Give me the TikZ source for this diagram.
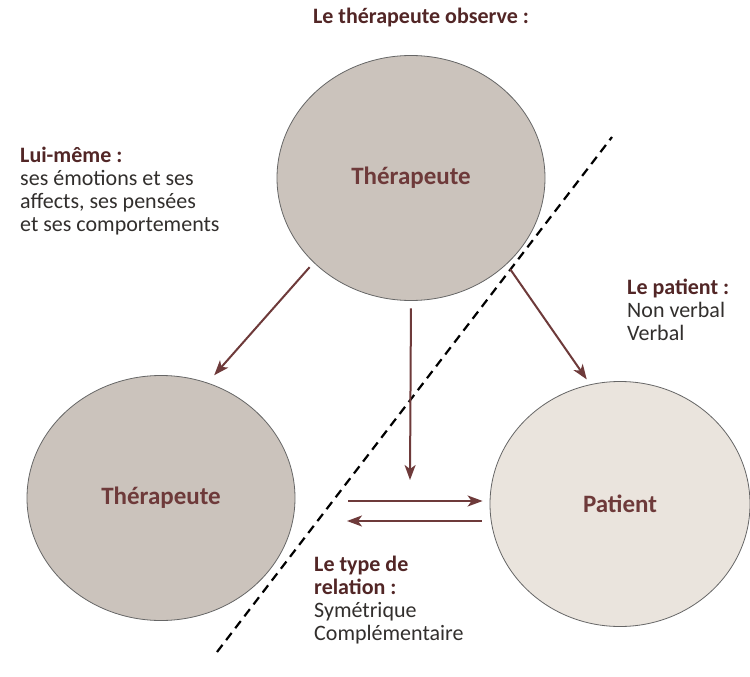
\documentclass[tikz,border=0pt]{standalone}
\usepackage{fontspec}
\setmainfont{Carlito}
\usetikzlibrary{arrows.meta, positioning, shapes}
\definecolor{my_beige}{RGB}{203, 195, 188}
\definecolor{my_light}{RGB}{234, 228, 221}
\definecolor{my_brown}{RGB}{110, 58, 58}
\definecolor{my_dark}{RGB}{82, 38, 38}
\definecolor{my_text}{RGB}{50, 47, 45}
\newcommand{\notehead}[1]{{\bfseries\color{my_dark}#1}}
\tikzset {
  circ/.style = {draw=black!60, line width=0.8pt, ellipse, fill=my_beige, text centered, minimum width=268pt, minimum height=245pt, inner sep=0pt, font=\fontsize{25}{27}\selectfont\bfseries, text=my_brown},
  line/.style = {-{Stealth[length=15pt, width=11pt, inset=4pt]}, line width=2pt, color=my_brown},
  cut/.style = {line width=2.2pt, dash pattern=on 9pt off 6pt},
  note/.style = {anchor=north west, align=left, inner sep=0pt, font=\fontsize{22}{23}\selectfont, text=my_text}
}

\begin{document}
\begin{tikzpicture}[x=1pt, y=-1pt]

    \path[use as bounding box, fill=white] (0,0) rectangle (750,677);

    \node[font=\fontsize{22}{22}\selectfont\bfseries, text=my_dark] (title) at (421,18) {Le thérapeute observe :};

    \node[circ] (top) at (411,178) {Thérapeute};
    \node[circ] (left) at (161,498) {Thérapeute};
    \node[circ, fill=my_light, minimum width=260pt] (pat) at (620,504) {Patient};

    % ligne de partage
    \coordinate (cut1) at (217,652);
    \coordinate (cut2) at (612,137);
    \draw[cut] (cut1) -- (cut2);

    \draw[line, shorten <=6pt, shorten >=10pt] (top.221) -- (left.68);
    \draw[line, shorten <=6pt, shorten >=6pt] (top.318) -- (pat.104);

    \coordinate (vend) at (410,480);
    \draw[line, shorten <=7.5pt] (top.south) -- (vend);

    \coordinate (h1) at (348,501);
    \coordinate (h2) at (347,521);
    \draw[line, shorten >=7pt] (h1) -- (h1 -| pat.west);
    \draw[line, shorten <=8pt] (h2 -| pat.west) -- (h2);

    \node[note] (self) at (20,147) {\notehead{Lui-même :}\\ses émotions et ses\\affects, ses pensées\\et ses comportements};
    \node[note] (obs) at (627,279) {\notehead{Le patient :}\\Non verbal\\Verbal};
    \node[note] (rel) at (314,556) {\notehead{Le type de}\\\notehead{relation :}\\Symétrique\\Complémentaire};

\end{tikzpicture}
\end{document}
